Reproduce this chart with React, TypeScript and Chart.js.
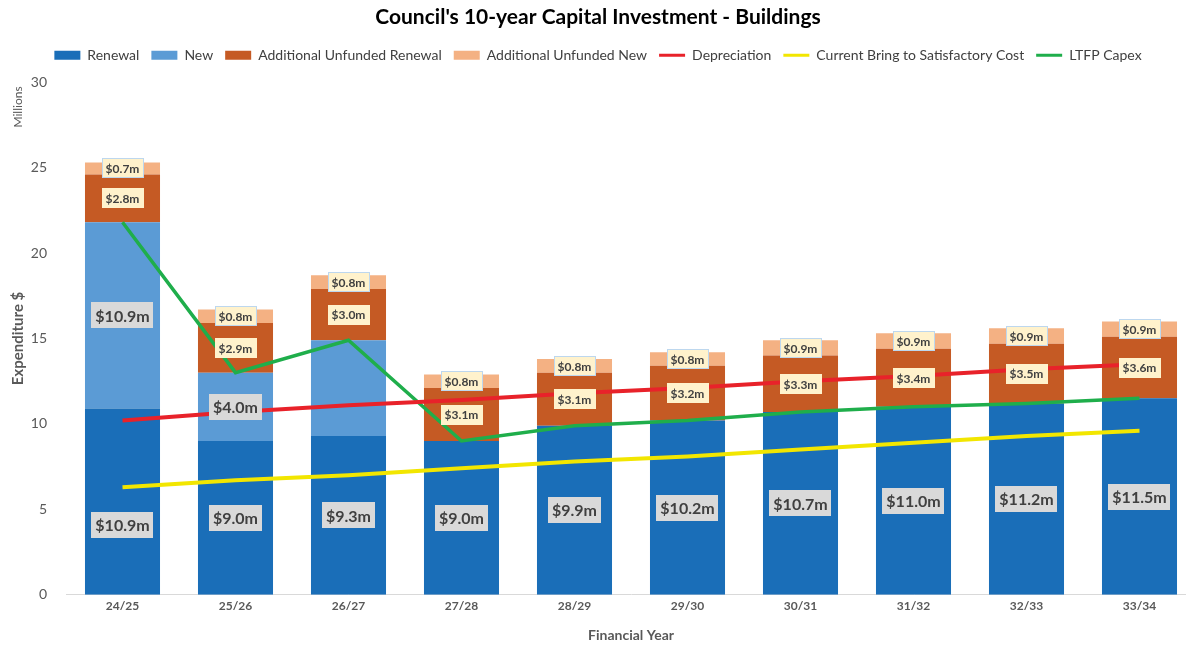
import React, { useEffect, useRef } from "react";
import { Chart, registerables } from "chart.js";

Chart.register(...registerables);

const categories = ["24/25", "25/26", "26/27", "27/28", "28/29", "29/30", "30/31", "31/32", "32/33", "33/34"];
const renewal = [10.9, 9.0, 9.3, 9.0, 9.9, 10.2, 10.7, 11.0, 11.2, 11.5];
const newWorks = [10.9, 4.0, 5.6, 0, 0, 0, 0, 0, 0, 0];
const unfundedRenewal = [2.8, 2.9, 3.0, 3.1, 3.1, 3.2, 3.3, 3.4, 3.5, 3.6];
const unfundedNew = [0.7, 0.8, 0.8, 0.8, 0.8, 0.8, 0.9, 0.9, 0.9, 0.9];
const depreciation = [10.2, 10.7, 11.1, 11.4, 11.8, 12.1, 12.5, 12.8, 13.2, 13.5];
const satisfactoryCost = [6.3, 6.7, 7.0, 7.4, 7.8, 8.1, 8.5, 8.9, 9.3, 9.6];
const ltfpCapex = [21.8, 13.0, 14.9, 9.0, 9.9, 10.2, 10.7, 11.0, 11.2, 11.5];

const FONT = "Lato, 'Noto Sans', sans-serif";

const segLabels = {
  id: "segLabels",
  afterDraw(chart: any) {
    const ctx = chart.ctx as CanvasRenderingContext2D;
    chart.data.datasets.forEach((ds: any, di: number) => {
      const st = ds.labelStyle;
      if (!st) return;
      const meta = chart.getDatasetMeta(di);
      meta.data.forEach((el: any, i: number) => {
        const v = ds.data[i];
        if (!v) return;
        if (st.hide && st.hide.includes(i)) return;
        const p = el.getProps(["x", "y", "base"], true);
        const cx = p.x;
        const cy = (p.y + p.base) / 2 + ((st.shift && st.shift[i]) || 0);
        const text = "$" + v.toFixed(1) + "m";
        ctx.save();
        ctx.font = `bold ${st.size}px ${FONT}`;
        const tw = ctx.measureText(text).width;
        const w = tw + st.padX * 2;
        const h = st.h;
        ctx.fillStyle = st.bg;
        ctx.fillRect(Math.round(cx - w / 2), Math.round(cy - h / 2), Math.round(w), h);
        if (st.border) {
          ctx.strokeStyle = st.border;
          ctx.lineWidth = 1;
          ctx.strokeRect(Math.round(cx - w / 2) + 0.5, Math.round(cy - h / 2) + 0.5, Math.round(w) - 1, h - 1);
        }
        ctx.fillStyle = "#404040";
        ctx.textAlign = "center";
        ctx.textBaseline = "middle";
        ctx.fillText(text, cx, cy + 1);
        ctx.restore();
      });
    });
  },
};

const millionsLabel = {
  id: "millionsLabel",
  afterDraw(chart: any) {
    const ctx = chart.ctx as CanvasRenderingContext2D;
    ctx.save();
    ctx.translate(18, 107);
    ctx.rotate(-Math.PI / 2);
    ctx.font = `12px ${FONT}`;
    ctx.fillStyle = "#595959";
    ctx.textAlign = "center";
    ctx.textBaseline = "middle";
    ctx.fillText("Millions", 0, 0);
    ctx.restore();
  },
};

const legendGap = {
  id: "legendGap",
  beforeInit(chart: any) {
    const legend = chart.legend;
    if (!legend) return;
    const origFit = legend.fit;
    legend.fit = function () {
      origFit.call(this);
      this.height += 10;
    };
  },
};

export default function App() {
  const ref = useRef<HTMLCanvasElement | null>(null);
  useEffect(() => {
    document.body.style.margin = "0";
    document.body.style.overflow = "hidden";
    const big = { size: 16, padX: 4, h: 26, bg: "#d9d9d9" };
    const small = { size: 12, padX: 4, h: 20, bg: "#fff2cc" };
    const chart = new Chart(ref.current as HTMLCanvasElement, {
      type: "bar",
      data: {
        labels: categories,
        datasets: [
          { type: "bar", label: "Renewal", data: renewal, backgroundColor: "#1a6eb8", order: 1, stack: "s", labelStyle: { ...big, shift: { 0: 23 } } } as any,
          { type: "bar", label: "New", data: newWorks, backgroundColor: "#5b9bd5", order: 1, stack: "s", labelStyle: { ...big, hide: [2] } } as any,
          { type: "bar", label: "Additional Unfunded Renewal", data: unfundedRenewal, backgroundColor: "#c55a24", order: 1, stack: "s", labelStyle: { ...small } } as any,
          { type: "bar", label: "Additional Unfunded New", data: unfundedNew, backgroundColor: "#f4b183", order: 1, stack: "s", labelStyle: { ...small, border: "#bdd7ee" } } as any,
          { type: "line", label: "Depreciation", data: depreciation, borderColor: "#e8222a", backgroundColor: "#e8222a", borderWidth: 4, pointRadius: 0, order: 0, stack: "l1" } as any,
          { type: "line", label: "Current Bring to Satisfactory Cost", data: satisfactoryCost, borderColor: "#f2e600", backgroundColor: "#f2e600", borderWidth: 4, pointRadius: 0, order: 0, stack: "l2" } as any,
          { type: "line", label: "LTFP Capex", data: ltfpCapex, borderColor: "#1fae4b", backgroundColor: "#1fae4b", borderWidth: 3.5, pointRadius: 0, order: 0, stack: "l3" } as any,
        ],
      },
      options: {
        responsive: false,
        animation: false,
        devicePixelRatio: 1,
        layout: { padding: { left: 0, right: 4, top: 0, bottom: 0 } },
        plugins: {
          tooltip: { enabled: false },
          title: {
            display: true,
            text: "Council's 10-year Capital Investment - Buildings",
            color: "#000",
            font: { family: FONT, size: 21, weight: "bold" },
            padding: { top: 5, bottom: 6 },
          },
          legend: {
            position: "top",
            labels: {
              color: "#404040",
              font: { family: FONT, size: 14 },
              usePointStyle: true,
              pointStyleWidth: 26,
              boxHeight: 9,
              padding: 12,
              sort: (a: any, b: any) => a.datasetIndex - b.datasetIndex,
              generateLabels: (chart: any) => {
                const items = Chart.defaults.plugins.legend.labels.generateLabels(chart);
                return items.map((it: any) => {
                  const ds = chart.data.datasets[it.datasetIndex];
                  if (ds.type === "line") {
                    return { ...it, pointStyle: "line", lineWidth: 3, strokeStyle: ds.borderColor };
                  }
                  return { ...it, pointStyle: "rect", lineWidth: 0, fillStyle: ds.backgroundColor };
                });
              },
            },
          },
        },
        scales: {
          x: {
            stacked: true,
            grid: { display: false, drawTicks: false },
            border: { display: true, color: "#d9d9d9", width: 1 },
            ticks: { color: "#595959", font: { family: FONT, size: 12, weight: "bold" }, padding: 4 },
            title: { display: true, text: "Financial Year", color: "#595959", font: { family: FONT, size: 14, weight: "bold" }, padding: { top: 10, bottom: 2 } },
          },
          y: {
            stacked: true,
            min: 0,
            max: 30,
            grid: { display: false, drawTicks: false },
            border: { display: false },
            ticks: { stepSize: 5, color: "#595959", font: { family: FONT, size: 14 }, padding: 19 },
            title: { display: true, text: "Expenditure $", color: "#595959", font: { family: FONT, size: 15, weight: "bold" }, padding: { top: 9, bottom: 0 } },
            afterFit: (scale: any) => {
              scale.width = 66;
            },
          },
        },
        datasets: { bar: { categoryPercentage: 1, barPercentage: 0.664 } },
      } as any,
      plugins: [segLabels, millionsLabel, legendGap],
    });
    return () => chart.destroy();
  }, []);
  return (
    <div style={{ position: "fixed", left: 0, top: 0, width: 1186, height: 646, overflow: "hidden", background: "#fff" }}>
      <canvas ref={ref} width={1200} height={646} style={{ width: 1200, height: 646, display: "block" }} />
    </div>
  );
}
